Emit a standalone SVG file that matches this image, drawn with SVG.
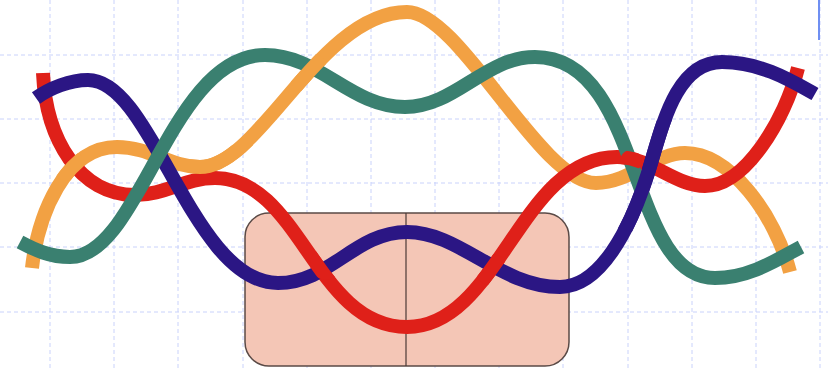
<svg xmlns="http://www.w3.org/2000/svg" xmlns:xlink="http://www.w3.org/1999/xlink" width="828" height="370" viewBox="0 0 828 370">
<style>
.grid line{stroke:#c9d2fb;stroke-width:1;stroke-dasharray:4 3}
.w{fill:none;stroke-width:14;stroke-linecap:butt;stroke-linejoin:round}
.o{stroke:#f2a143}.t{stroke:#3a8070}.r{stroke:#df2019}.b{stroke:#2b1684}
</style>
<defs>
<path id="po" d="M32,268 C38,215 65,147 117,147 C150,147 170,167 200,167 C260,167 320,12 407,12 C460,12 540,183 596,183 C630,183 655,153 685,153 C730,153 775,215 790,272"/>
<path id="pt" d="M20,242 C35,250 50,257 70,257 C140,257 170,55 265,55 C320,55 350,107 405,107 C455,107 485,57 535,57 C644,57 627,278 715,278 C750,278 780,258 801,247"/>
<path id="pr" d="M43,73 C46,140 80,195 135,195 C165,195 185,178 215,178 C300,178 315,327 407,327 C499,327 520,157 617,157 C650,157 675,186 705,186 C745,186 785,120 798,68"/>
<path id="pb" d="M36,98 C50,88 70,80 88,80 C153,80 192,283 278,283 C330,283 355,232 407,232 C460,232 500,287 560,287 C600,287 630,230 648,173 C662,128 675,62 722,62 C760,62 790,80 815,94"/>
<clipPath id="c1"><circle cx="68" cy="165" r="16"/></clipPath>
<clipPath id="c2"><circle cx="308" cy="72" r="20"/></clipPath>
<clipPath id="c3"><circle cx="326" cy="264" r="16"/></clipPath>
<clipPath id="c4"><circle cx="492" cy="270" r="16"/></clipPath>
<clipPath id="c5"><circle cx="631" cy="161" r="11"/></clipPath>
<clipPath id="c6"><rect x="618" y="120" width="60" height="112"/></clipPath>
<clipPath id="c7"><rect x="190" y="145" width="65" height="40"/></clipPath>
</defs>
<rect width="828" height="370" fill="#ffffff"/>
<g class="grid">
<line x1="50" y1="0" x2="50" y2="370"/><line x1="114" y1="0" x2="114" y2="370"/><line x1="178" y1="0" x2="178" y2="370"/><line x1="243" y1="0" x2="243" y2="370"/><line x1="307" y1="0" x2="307" y2="370"/><line x1="371" y1="0" x2="371" y2="370"/><line x1="435" y1="0" x2="435" y2="370"/><line x1="499" y1="0" x2="499" y2="370"/><line x1="563" y1="0" x2="563" y2="370"/><line x1="628" y1="0" x2="628" y2="370"/><line x1="692" y1="0" x2="692" y2="370"/><line x1="756" y1="0" x2="756" y2="370"/><line x1="820" y1="0" x2="820" y2="370"/>
<line x1="0" y1="55" x2="828" y2="55"/><line x1="0" y1="119" x2="828" y2="119"/><line x1="0" y1="183" x2="828" y2="183"/><line x1="0" y1="247" x2="828" y2="247"/><line x1="0" y1="312" x2="828" y2="312"/>
</g>
<line x1="819" y1="0" x2="819" y2="40" stroke="#6f8ff2" stroke-width="2"/>
<g id="box">
<rect x="245" y="213" width="324" height="153" rx="24" fill="#f4c6b6" stroke="#5a4a46" stroke-width="1.5"/>
<line x1="406" y1="213" x2="406" y2="366" stroke="#4a3a36" stroke-width="1.2"/>
</g>
<g id="curves">
<use xlink:href="#po" class="w o"/>
<use xlink:href="#pr" class="w r"/>
<use xlink:href="#pb" class="w b"/>
<use xlink:href="#pt" class="w t"/>
<use xlink:href="#po" class="w o" clip-path="url(#c1)"/>
<use xlink:href="#po" class="w o" clip-path="url(#c2)"/>
<use xlink:href="#po" class="w o" clip-path="url(#c7)"/>
<use xlink:href="#pr" class="w r" clip-path="url(#c3)"/>
<use xlink:href="#pr" class="w r" clip-path="url(#c4)"/>
<use xlink:href="#pr" class="w r" clip-path="url(#c5)"/>
<use xlink:href="#pb" class="w b" clip-path="url(#c6)"/>
</g>
</svg>
